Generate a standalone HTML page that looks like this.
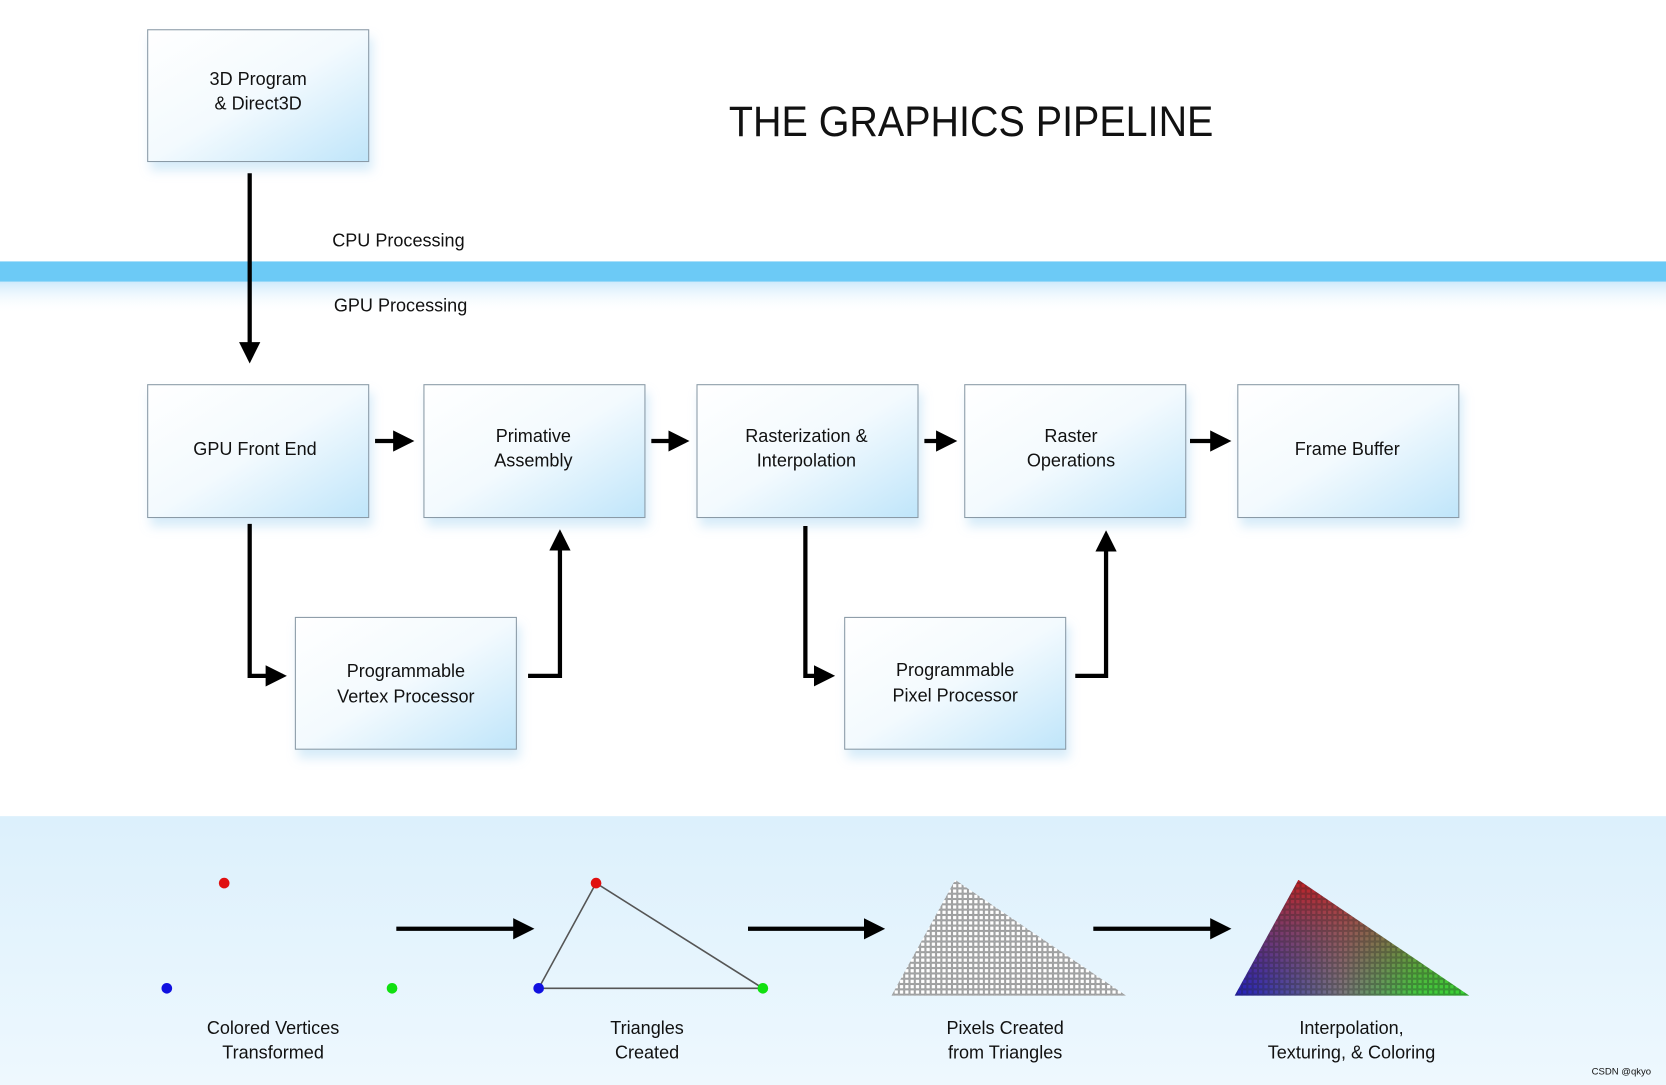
<!DOCTYPE html>
<html><head><meta charset="utf-8"><style>
html,body{margin:0;padding:0;background:#fff;}
svg{display:block;}
text{font-family:"Liberation Sans",sans-serif;fill:#111;}
</style></head><body>
<svg width="1666" height="1085" viewBox="0 0 1568 1021" preserveAspectRatio="none" xmlns="http://www.w3.org/2000/svg">
<defs>
<linearGradient id="box" x1="0" y1="0" x2="1" y2="1">
<stop offset="0" stop-color="#ffffff"/><stop offset="0.5" stop-color="#f3fafe"/><stop offset="1" stop-color="#bfe5fa"/></linearGradient>
<linearGradient id="band" x1="0" y1="0" x2="0" y2="1">
<stop offset="0" stop-color="#dcf0fc"/><stop offset="1" stop-color="#eef8fe"/></linearGradient>
<linearGradient id="fade" x1="0" y1="0" x2="0" y2="1">
<stop offset="0" stop-color="#cfeafb"/><stop offset="1" stop-color="#ffffff" stop-opacity="0"/></linearGradient>
<filter id="sh" x="-10%" y="-10%" width="130%" height="140%"><feDropShadow dx="3" dy="8" stdDeviation="5" flood-color="#8cc8ee" flood-opacity="0.35"/></filter>
<marker id="ah" markerWidth="5" markerHeight="5" refX="4" refY="2.5" orient="auto" markerUnits="strokeWidth"><path d="M0,0 L5,2.5 L0,5 Z" fill="#000"/></marker>
<pattern id="gridg" width="5" height="5" patternUnits="userSpaceOnUse" x="841" y="831"><rect x="0.5" y="0.5" width="4" height="4" fill="#fff" stroke="#999" stroke-width="0.9"/></pattern>
<pattern id="gridc" width="5" height="5" patternUnits="userSpaceOnUse" x="1164" y="831"><rect x="0.5" y="0.5" width="4" height="4" fill="none" stroke="#222" stroke-opacity="0.35" stroke-width="0.9"/></pattern>
<linearGradient id="cg1" x1="0" y1="0" x2="1" y2="0"><stop offset="0" stop-color="#1a1ac8"/><stop offset="0.45" stop-color="#7a7a80"/><stop offset="0.75" stop-color="#40d040"/><stop offset="1" stop-color="#30e030"/></linearGradient>
<linearGradient id="cg2" x1="0" y1="0" x2="0" y2="1"><stop offset="0" stop-color="#c81e1e"/><stop offset="0.45" stop-color="#b03030" stop-opacity="0.5"/><stop offset="1" stop-color="#a03030" stop-opacity="0"/></linearGradient>
<clipPath id="tg"><polygon points="899,828 839,937 1060,937"/></clipPath>
<clipPath id="tc"><polygon points="1222,828 1162,937 1383,937"/></clipPath>
</defs>
<rect width="1568" height="1021" fill="#fff"/>
<rect y="265" width="1568" height="30" fill="url(#fade)"/>
<rect y="246" width="1568" height="19" fill="#6ccaf6"/>
<rect y="768" width="1568" height="253" fill="url(#band)"/>

<text x="914" y="128" font-size="40" text-anchor="middle" fill="#000" textLength="456" lengthAdjust="spacingAndGlyphs">THE GRAPHICS PIPELINE</text>
<text x="375" y="232" font-size="17" text-anchor="middle">CPU Processing</text>
<text x="377" y="293" font-size="17" text-anchor="middle">GPU Processing</text>

<g filter="url(#sh)" stroke="#8a9aa6" stroke-width="1" fill="url(#box)">
<rect x="139" y="28" width="208" height="124"/>
<rect x="139" y="362" width="208" height="125"/>
<rect x="399" y="362" width="208" height="125"/>
<rect x="656" y="362" width="208" height="125"/>
<rect x="908" y="362" width="208" height="125"/>
<rect x="1165" y="362" width="208" height="125"/>
<rect x="278" y="581" width="208" height="124"/>
<rect x="795" y="581" width="208" height="124"/>
</g>
<g font-size="17" text-anchor="middle">
<text x="243" y="80">3D Program</text><text x="243" y="103">&amp; Direct3D</text>
<text x="240" y="428">GPU Front End</text>
<text x="502" y="416">Primative</text><text x="502" y="439">Assembly</text>
<text x="759" y="416">Rasterization &amp;</text><text x="759" y="439">Interpolation</text>
<text x="1008" y="416">Raster</text><text x="1008" y="439">Operations</text>
<text x="1268" y="428">Frame Buffer</text>
<text x="382" y="637">Programmable</text><text x="382" y="661">Vertex Processor</text>
<text x="899" y="636">Programmable</text><text x="899" y="660">Pixel Processor</text>
</g>

<g stroke="#000" stroke-width="4" fill="none" marker-end="url(#ah)">
<path d="M235,163 V338"/>
<path d="M353,415 H386"/>
<path d="M613,415 H645"/>
<path d="M870,415 H897"/>
<path d="M1120,415 H1155"/>
<path d="M235,493 V636 H266"/>
<path d="M497,636 H527 V502"/>
<path d="M758,495 V636 H782"/>
<path d="M1012,636 H1041 V503"/>
<path d="M373,874 H499"/>
<path d="M704,874 H829"/>
<path d="M1029,874 H1155"/>
</g>

<circle cx="211" cy="831" r="5" fill="#e01010"/>
<circle cx="157" cy="930" r="5" fill="#1010e0"/>
<circle cx="369" cy="930" r="5" fill="#10e010"/>
<polygon points="561,831 507,930 718,930" fill="none" stroke="#555" stroke-width="1.5"/>
<circle cx="561" cy="831" r="5" fill="#e01010"/>
<circle cx="507" cy="930" r="5" fill="#1010e0"/>
<circle cx="718" cy="930" r="5" fill="#10e010"/>

<g clip-path="url(#tg)"><rect x="835" y="825" width="230" height="115" fill="url(#gridg)"/></g>
<g clip-path="url(#tc)"><rect x="1160" y="825" width="230" height="115" fill="url(#cg1)"/><rect x="1160" y="825" width="230" height="115" fill="url(#cg2)"/><rect x="1160" y="825" width="230" height="115" fill="url(#gridc)"/></g>

<g font-size="17" text-anchor="middle">
<text x="257" y="973">Colored Vertices</text><text x="257" y="996">Transformed</text>
<text x="609" y="973">Triangles</text><text x="609" y="996">Created</text>
<text x="946" y="973">Pixels Created</text><text x="946" y="996">from Triangles</text>
<text x="1272" y="973">Interpolation,</text><text x="1272" y="996">Texturing, &amp; Coloring</text>
</g>
<text x="1554" y="1011" font-size="9" text-anchor="end" fill="#888">CSDN @qkyo</text>
</svg>
</body></html>
